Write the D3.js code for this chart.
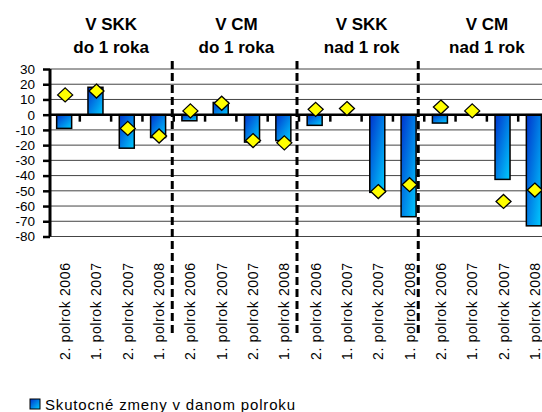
<!DOCTYPE html>
<html>
<head>
<meta charset="utf-8">
<script src="https://cdn.jsdelivr.net/npm/d3@7/dist/d3.min.js"></script>
<style>
  html, body { margin: 0; padding: 0; background: #fff; }
  svg { display: block; font-family: "Liberation Sans", Arial, sans-serif; }
</style>
</head>
<body>
<svg id="chart" width="542" height="412"></svg>
<script>
// Half-year periods shown in every block
const periods = ["2. polrok 2006", "1. polrok 2007", "2. polrok 2007", "1. polrok 2008"];
// Block headings (two lines each)
const groupTitles = [
  ["V SKK", "do 1 roka"],
  ["V CM", "do 1 roka"],
  ["V SKK", "nad 1 rok"],
  ["V CM", "nad 1 rok"]
];
// Actual change in the given half-year (bars)
const actualChanges = [-9, 18, -22, -15, -4, 8, -18, -17, -7, 0, -51, -67, -5.5, 0, -42.5, -73];
// Expected change (diamond markers)
const expectedChanges = [13, 15.5, -9, -14, 2.5, 7.5, -17, -18.5, 3.5, 4, -50.5, -46, 5, 2.5, -57, -49.5];
// Value axis ticks
const yTicks = [30, 20, 10, 0, -10, -20, -30, -40, -50, -60, -70, -80];
const legendLabel = "Skutocné zmeny v danom polroku";

const rows = [];
groupTitles.forEach((g, gi) => periods.forEach((p, pi) => {
  const i = gi * periods.length + pi;
  rows.push({ key: gi + "-" + pi, group: gi, period: p, actual: actualChanges[i], expected: expectedChanges[i] });
}));

const svg = d3.select("#chart");
const W = 542;
const FONT = "Liberation Sans, Arial, sans-serif";

const x = d3.scaleBand().domain(rows.map(d => d.key)).range([48.5, 549.5]).paddingInner(0).paddingOuter(0);
const y = d3.scaleLinear().domain([-80, 30]).range([236.5, 69]);
const bw = x.bandwidth();
const cx = d => x(d.key) + bw / 2;

// Bar fill
const defs = svg.append("defs");
const grad = defs.append("linearGradient").attr("id", "barFill")
  .attr("x1", 0).attr("y1", 0).attr("x2", 1).attr("y2", 1);
grad.append("stop").attr("offset", "0%").attr("stop-color", "#0033cc");
grad.append("stop").attr("offset", "100%").attr("stop-color", "#00ccff");

// Horizontal gridlines
svg.append("g").selectAll("line").data(yTicks.filter(t => t !== 0)).join("line")
  .attr("x1", 50).attr("x2", W)
  .attr("y1", d => y(d)).attr("y2", d => y(d))
  .attr("stroke", "#444").attr("stroke-width", 1);

// Group separators (dashed)
const sepX = [1, 2, 3].map(g => x(g + "-0") - [1.5, 2, 6][g - 1]);
svg.append("g").selectAll("line").data(sepX).join("line")
  .attr("x1", d => d).attr("x2", d => d)
  .attr("y1", 61).attr("y2", 336)
  .attr("stroke", "#000").attr("stroke-width", 3)
  .attr("stroke-dasharray", "8,4");

// Bars
svg.append("g").selectAll("rect").data(rows.filter(d => d.actual !== 0)).join("rect")
  .attr("x", d => cx(d) - 7.5)
  .attr("width", 15)
  .attr("y", d => y(Math.max(0, d.actual)))
  .attr("height", d => Math.abs(y(d.actual) - y(0)))
  .attr("fill", "url(#barFill)")
  .attr("stroke", "#000").attr("stroke-width", 1.5);

// Category axis at zero with short tick marks between categories
svg.append("line")
  .attr("x1", 50).attr("x2", W)
  .attr("y1", y(0)).attr("y2", y(0))
  .attr("stroke", "#000").attr("stroke-width", 2.5);
svg.append("g").selectAll("line").data(rows.slice(1)).join("line")
  .attr("x1", d => x(d.key)).attr("x2", d => x(d.key))
  .attr("y1", y(0)).attr("y2", y(0) + 7)
  .attr("stroke", "#000").attr("stroke-width", 2.5);

// Value axis
const yAxis = svg.append("g").attr("transform", "translate(50,0)")
  .call(d3.axisLeft(y).tickValues(yTicks).tickSize(7).tickPadding(8).tickFormat(d3.format("d")));
yAxis.attr("font-family", FONT);
yAxis.select(".domain").attr("stroke", "#000").attr("stroke-width", 3)
  .attr("d", `M0,${y(30)}V${y(-80)}`);
yAxis.selectAll(".tick line").attr("stroke", "#000").attr("stroke-width", 2.5);
yAxis.selectAll(".tick text")
  .attr("font-size", 13.5).attr("fill", "#000")
  .text(d => d < 0 ? "-" + Math.abs(d) : d);

// Expected-change diamonds
svg.append("g").selectAll("path").data(rows).join("path")
  .attr("transform", d => `translate(${cx(d) + 1},${y(d.expected)})`)
  .attr("d", "M0,-7L7.5,0L0,7L-7.5,0Z")
  .attr("fill", "#ffff00").attr("stroke", "#000").attr("stroke-width", 1.3);

// Period labels (rotated)
svg.append("g").selectAll("text").data(rows).join("text")
  .attr("transform", d => `translate(${cx(d) + 1},263) rotate(-90)`)
  .attr("text-anchor", "end")
  .attr("dominant-baseline", "central")
  .attr("font-family", FONT)
  .attr("font-size", 14).attr("fill", "#000")
  .attr("textLength", 97).attr("lengthAdjust", "spacing")
  .text(d => d.period);

// Block headings
const gCenter = gi => (x(gi + "-0") + x(gi + "-3") + bw) / 2;
const heads = svg.append("g").attr("font-family", FONT).selectAll("g").data(groupTitles).join("g");
heads.append("text")
  .attr("x", (d, i) => gCenter(i)).attr("y", 30)
  .attr("text-anchor", "middle").attr("font-weight", "bold").attr("font-size", 17)
  .text(d => d[0]);
heads.append("text")
  .attr("x", (d, i) => gCenter(i)).attr("y", 53)
  .attr("text-anchor", "middle").attr("font-weight", "bold").attr("font-size", 17)
  .text(d => d[1]);

// Legend
const lg = svg.append("g").attr("font-family", FONT);
lg.append("rect").attr("x", 30).attr("y", 399).attr("width", 10).attr("height", 10)
  .attr("fill", "url(#barFill)").attr("stroke", "#000").attr("stroke-width", 1);
lg.append("text").attr("x", 45).attr("y", 410)
  .attr("font-size", 15).attr("fill", "#000")
  .attr("textLength", 250).attr("lengthAdjust", "spacing")
  .text(legendLabel);
</script>
</body>
</html>
